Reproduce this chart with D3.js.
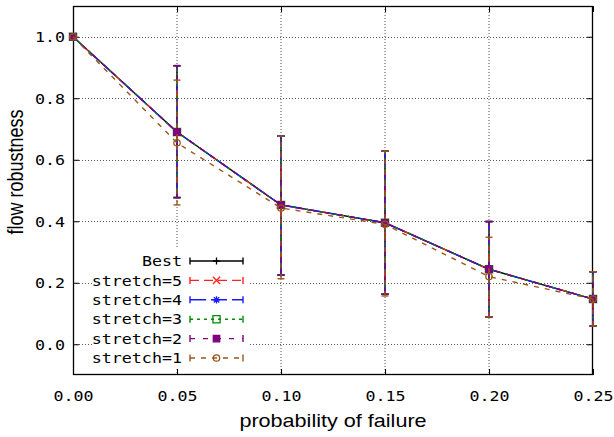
<!DOCTYPE html>
<html>
<head>
<meta charset="utf-8">
<script src="https://cdn.jsdelivr.net/npm/d3@7"></script>
<style>
  html, body { margin: 0; padding: 0; background: #fff; }
  svg { display: block; }
</style>
</head>
<body>
<svg id="chart" width="614" height="437"></svg>
<script>
// ---- data ----
const xValues = [0.00, 0.05, 0.10, 0.15, 0.20, 0.25];
const xTickLabels = ["0.00", "0.05", "0.10", "0.15", "0.20", "0.25"];
const yTickValues = [0.0, 0.2, 0.4, 0.6, 0.8, 1.0];
const yTickLabels = ["0.0", "0.2", "0.4", "0.6", "0.8", "1.0"];

const seriesNames = ["Best", "stretch=5", "stretch=4", "stretch=3", "stretch=2", "stretch=1"];

const bestMean = [1.0, 0.690, 0.453, 0.395, 0.244, 0.147];
const bestLow  = [1.0, 0.477, 0.225, 0.163, 0.089, 0.060];
const bestHigh = [1.0, 0.906, 0.677, 0.628, 0.399, 0.236];

const s5Mean = [1.0, 0.690, 0.453, 0.395, 0.244, 0.147];
const s5Low  = [1.0, 0.477, 0.225, 0.163, 0.089, 0.060];
const s5High = [1.0, 0.906, 0.677, 0.628, 0.399, 0.236];

const s4Mean = [1.0, 0.690, 0.453, 0.395, 0.244, 0.147];
const s4Low  = [1.0, 0.477, 0.225, 0.163, 0.089, 0.060];
const s4High = [1.0, 0.906, 0.677, 0.628, 0.399, 0.236];

const s3Mean = [1.0, 0.690, 0.453, 0.395, 0.244, 0.147];
const s3Low  = [1.0, 0.477, 0.225, 0.163, 0.089, 0.060];
const s3High = [1.0, 0.906, 0.677, 0.628, 0.399, 0.236];

const s2Mean = [1.0, 0.690, 0.453, 0.395, 0.244, 0.147];
const s2Low  = [1.0, 0.477, 0.225, 0.163, 0.089, 0.060];
const s2High = [1.0, 0.906, 0.677, 0.628, 0.399, 0.236];

const s1Mean = [1.0, 0.655, 0.443, 0.390, 0.220, 0.147];
const s1Low  = [1.0, 0.453, 0.213, 0.157, 0.089, 0.060];
const s1High = [1.0, 0.859, 0.677, 0.628, 0.348, 0.236];

// ---- styles ----
const seriesStyle = [
  { color: "#000000", dash: null,   marker: "plus" },
  { color: "#ff2020", dash: "9,5",  marker: "cross" },
  { color: "#1a1aff", dash: "16,5", marker: "asterisk" },
  { color: "#008a00", dash: "3,4",  marker: "openSquare" },
  { color: "#800080", dash: "5,8",  marker: "filledSquare" },
  { color: "#9c561c", dash: "5,6",  marker: "openCircle" }
];

const seriesData = [
  [bestMean, bestLow, bestHigh],
  [s5Mean, s5Low, s5High],
  [s4Mean, s4Low, s4High],
  [s3Mean, s3Low, s3High],
  [s2Mean, s2Low, s2High],
  [s1Mean, s1Low, s1High]
];

const MONO = "'DejaVu Sans Mono', monospace";
const SANS = "'Liberation Sans', Arial, sans-serif";
const SX = 1.15;  // horizontal text stretch seen in the reference

const margin = { left: 73, right: 614 - 593, top: 6, bottom: 437 - 375 };
const W = 614, H = 437;
const iw = W - margin.left - margin.right;
const ih = H - margin.top - margin.bottom;

const svg = d3.select("#chart");
const g = svg.append("g").attr("transform", `translate(${margin.left},${margin.top})`);

const x = d3.scaleLinear().domain([0, 0.25]).range([0, iw]);
const y = d3.scaleLinear().domain([-0.1, 1.1]).range([ih, 0]);

// ---- grid ----
const grid = g.append("g");
grid.selectAll("line.gx").data(xValues.slice(1, -1)).join("line")
  .attr("x1", d => x(d)).attr("x2", d => x(d))
  .attr("y1", 0).attr("y2", ih)
  .attr("stroke", "#555").attr("stroke-width", 1).attr("stroke-dasharray", "1,2");
grid.selectAll("line.gy").data(yTickValues).join("line")
  .attr("x1", 0).attr("x2", iw)
  .attr("y1", d => Math.round(y(d)) + 0.5).attr("y2", d => Math.round(y(d)) + 0.5)
  .attr("stroke", "#555").attr("stroke-width", 1).attr("stroke-dasharray", "1,2");

// ---- legend background (hides grid) ----
const legendX = 182, legendY0 = 261, legendDY = 19.4;
g.append("rect")
  .attr("x", 92 - margin.left).attr("y", 248 - margin.top)
  .attr("width", 250 - 92).attr("height", 367 - 248)
  .attr("fill", "#fff");

// ---- axes ----
function styleAxis(sel) {
  sel.select(".domain").remove();
  sel.selectAll(".tick line").attr("stroke", "#000").attr("stroke-width", 1);
}
const xAxis = g.append("g").attr("transform", `translate(0,${ih})`)
  .call(d3.axisBottom(x).tickValues(xValues).tickSize(-6)
    .tickFormat((d, i) => xTickLabels[i]));
styleAxis(xAxis);
xAxis.selectAll(".tick text")
  .attr("y", null).attr("dy", null)
  .attr("transform", `translate(0,26) scale(${SX},1)`)
  .attr("font-family", MONO).attr("font-size", 14.5).attr("fill", "#000");

const yAxis = g.append("g")
  .call(d3.axisLeft(y).tickValues(yTickValues).tickSize(-6)
    .tickFormat((d, i) => yTickLabels[i]));
styleAxis(yAxis);
yAxis.selectAll(".tick text")
  .attr("x", null).attr("dy", "0.36em")
  .attr("transform", `translate(-8,0) scale(${SX},1)`)
  .attr("text-anchor", "end")
  .attr("font-family", MONO).attr("font-size", 14.5).attr("fill", "#000");

const xTop = g.append("g")
  .call(d3.axisTop(x).tickValues(xValues).tickSize(-6).tickFormat(""));
styleAxis(xTop);
const yRight = g.append("g").attr("transform", `translate(${iw},0)`)
  .call(d3.axisRight(y).tickValues(yTickValues).tickSize(-6).tickFormat(""));
styleAxis(yRight);

// border
g.append("rect").attr("x", 0.5).attr("y", 0.5).attr("width", iw - 1).attr("height", ih - 1)
  .attr("fill", "none").attr("stroke", "#000").attr("stroke-width", 1.3);

// ---- markers ----
function markerPath(type, s) {
  switch (type) {
    case "plus": return `M${-s},0H${s}M0,${-s}V${s}`;
    case "cross": return `M${-s},${-s}L${s},${s}M${-s},${s}L${s},${-s}`;
    case "asterisk": return `M${-s},0H${s}M0,${-s}V${s}M${-s*0.75},${-s*0.75}L${s*0.75},${s*0.75}M${-s*0.75},${s*0.75}L${s*0.75},${-s*0.75}`;
    case "openSquare": return `M${-s},${-s}H${s}V${s}H${-s}Z`;
    case "filledSquare": return `M${-s},${-s}H${s}V${s}H${-s}Z`;
    case "openCircle": return d3.arc()({innerRadius: 0, outerRadius: s, startAngle: 0, endAngle: 2 * Math.PI});
  }
}
function drawMarker(sel, st, cx, cy) {
  const filled = st.marker === "filledSquare";
  const s = st.marker === "openSquare" ? 3.6 : st.marker === "filledSquare" ? 3.2 : st.marker === "openCircle" ? 3.2 : 3.6;
  sel.append("path")
    .attr("transform", `translate(${cx},${cy})`)
    .attr("d", markerPath(st.marker, s))
    .attr("fill", filled ? st.color : "none")
    .attr("stroke", st.color).attr("stroke-width", 1.3);
}

// ---- series ----
const line = d3.line().x((d, i) => x(xValues[i])).y(d => y(d));
seriesData.forEach((sd, k) => {
  const st = seriesStyle[k];
  const [mean, low, high] = sd;
  const sg = g.append("g");
  sg.append("path").attr("d", line(mean))
    .attr("fill", "none").attr("stroke", st.color).attr("stroke-width", 1.4)
    .attr("stroke-dasharray", st.dash);
  xValues.forEach((xv, i) => {
    if (high[i] === low[i]) return;
    const cx = x(xv);
    sg.append("line").attr("x1", cx).attr("x2", cx).attr("y1", y(low[i])).attr("y2", y(high[i]))
      .attr("stroke", st.color).attr("stroke-width", 1.4).attr("stroke-dasharray", st.dash);
    [low[i], high[i]].forEach(v => {
      sg.append("line").attr("x1", cx - 3.5).attr("x2", cx + 3.5).attr("y1", y(v)).attr("y2", y(v))
        .attr("stroke", st.color).attr("stroke-width", 1.4);
    });
  });
  mean.forEach((v, i) => drawMarker(sg, st, x(xValues[i]), y(v)));
});

// ---- legend ----
const leg = svg.append("g");
seriesNames.forEach((name, k) => {
  const st = seriesStyle[k];
  const cy = legendY0 + k * legendDY;
  leg.append("text")
    .attr("transform", `translate(${legendX},${cy}) scale(${SX},1)`)
    .attr("dy", "0.36em").attr("text-anchor", "end")
    .attr("font-family", MONO).attr("font-size", 14.5).attr("fill", "#000")
    .text(name);
  const x1 = 190, x2 = 243;
  leg.append("line").attr("x1", x1).attr("x2", x2).attr("y1", cy).attr("y2", cy)
    .attr("stroke", st.color).attr("stroke-width", 1.4).attr("stroke-dasharray", st.dash);
  [x1, x2].forEach(xx => {
    leg.append("line").attr("x1", xx).attr("x2", xx).attr("y1", cy - 3.5).attr("y2", cy + 3.5)
      .attr("stroke", st.color).attr("stroke-width", 1.4);
  });
  drawMarker(leg, st, (x1 + x2) / 2, cy);
});

// ---- axis titles ----
svg.append("text")
  .attr("transform", `translate(${margin.left + iw / 2},427) scale(1.2,1)`)
  .attr("text-anchor", "middle")
  .attr("font-family", SANS).attr("font-size", 18).attr("fill", "#000")
  .text("probability of failure");
svg.append("text")
  .attr("transform", `translate(23,172) scale(1.2,1) rotate(-90)`)
  .attr("text-anchor", "middle")
  .attr("font-family", SANS).attr("font-size", 18).attr("fill", "#000")
  .text("flow robustness");
</script>
</body>
</html>
